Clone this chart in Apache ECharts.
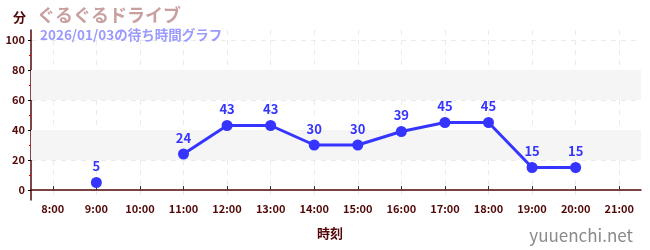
<!DOCTYPE html>
<html><head><meta charset="utf-8">
<script src="https://cdn.jsdelivr.net/npm/echarts@6/dist/echarts.min.js"></script>
<style>html,body{margin:0;padding:0;background:#fff}#c{width:650px;height:250px}</style>
</head><body><div id="c"></div>
<script>
const hours = [8, 9, 10, 11, 12, 13, 14, 15, 16, 17, 18, 19, 20, 21];
const waits = [null, 5, null, 24, 43, 43, 30, 30, 39, 45, 45, 15, 15, null];
const yTicks = [0, 20, 40, 60, 80, 100];
const yMinorTicks = [10, 30, 50, 70, 90];
const bands = [[20, 40], [60, 80]];
const titleText = 'ぐるぐるドライブ';
const subText = '2026/01/03の待ち時間グラフ';

const axisColor = '#520808';
const blue = '#3535ff';
const font = '"Noto Sans CJK JP", "Noto Sans", sans-serif';

const chart = echarts.init(document.getElementById('c'), null, {renderer: 'canvas'});
chart.setOption({
  animation: false,
  textStyle: {fontFamily: font},
  title: [
    {text: titleText, left: 32, top: 1, textStyle: {color: '#c9a0a0', fontSize: 18, fontWeight: 'bold', fontFamily: font}},
    {text: subText, left: 35, top: 23, textStyle: {color: '#9a9aff', fontSize: 13.5, fontWeight: 'bold', fontFamily: font}},
    {text: '分', left: 8, top: 6, textStyle: {color: axisColor, fontSize: 13, fontWeight: 'bold', fontFamily: font}},
    {text: '時刻', left: 325, top: 222, textAlign: 'center', textStyle: {color: axisColor, fontSize: 13, fontWeight: 'bold', fontFamily: font}},
    {text: 'yuuenchi.net', right: 12, top: 222, textStyle: {color: '#8a8a8a', fontSize: 17, fontWeight: 'normal', fontFamily: font}}
  ],
  grid: {left: 31, right: 9, top: 30, bottom: 50, containLabel: false},
  xAxis: {
    type: 'value', min: 7.5, max: 21.5,
    axisLine: {show: true, lineStyle: {color: axisColor, width: 1.5}},
    axisTick: {show: true, inside: true, length: 4, lineStyle: {color: '#333'}, customValues: hours},
    axisLabel: {customValues: hours, formatter: v => v + ':00', color: axisColor, fontSize: 11, fontWeight: 'bold', margin: 3, fontFamily: font},
    splitLine: {show: true, lineStyle: {color: '#ebebeb', type: [5, 5]}}
  },
  yAxis: [{
    type: 'value', min: -20/3, max: 320/3,
    axisLine: {show: true, lineStyle: {color: axisColor, width: 1.5}},
    axisTick: {show: true, length: 3, lineStyle: {color: '#000'}, customValues: yTicks},
    axisLabel: {customValues: yTicks, color: axisColor, fontSize: 11, fontWeight: 'bold', margin: 6, fontFamily: font},
    splitLine: {show: true, lineStyle: {color: '#ebebeb', type: [5, 5]}}
  }, {
    type: 'value', min: -20/3, max: 320/3, position: 'left',
    axisLine: {show: false},
    axisTick: {show: true, length: 2, lineStyle: {color: '#e00000'}, customValues: yMinorTicks},
    axisLabel: {show: false},
    splitLine: {show: false}
  }],
  series: [{
    type: 'line',
    data: hours.map((h, i) => [h, waits[i] === null ? '-' : waits[i]]),
    connectNulls: false,
    symbol: 'circle', symbolSize: 11,
    itemStyle: {color: blue},
    lineStyle: {color: blue, width: 3},
    label: {show: true, position: 'top', distance: 4, color: blue, fontSize: 13, fontWeight: 'bold', fontFamily: font},
    markArea: {
      silent: true,
      itemStyle: {color: '#f5f5f5'},
      data: bands.map(b => [{yAxis: b[0]}, {yAxis: b[1]}])
    },
    z: 5
  }]
});
</script></body></html>
